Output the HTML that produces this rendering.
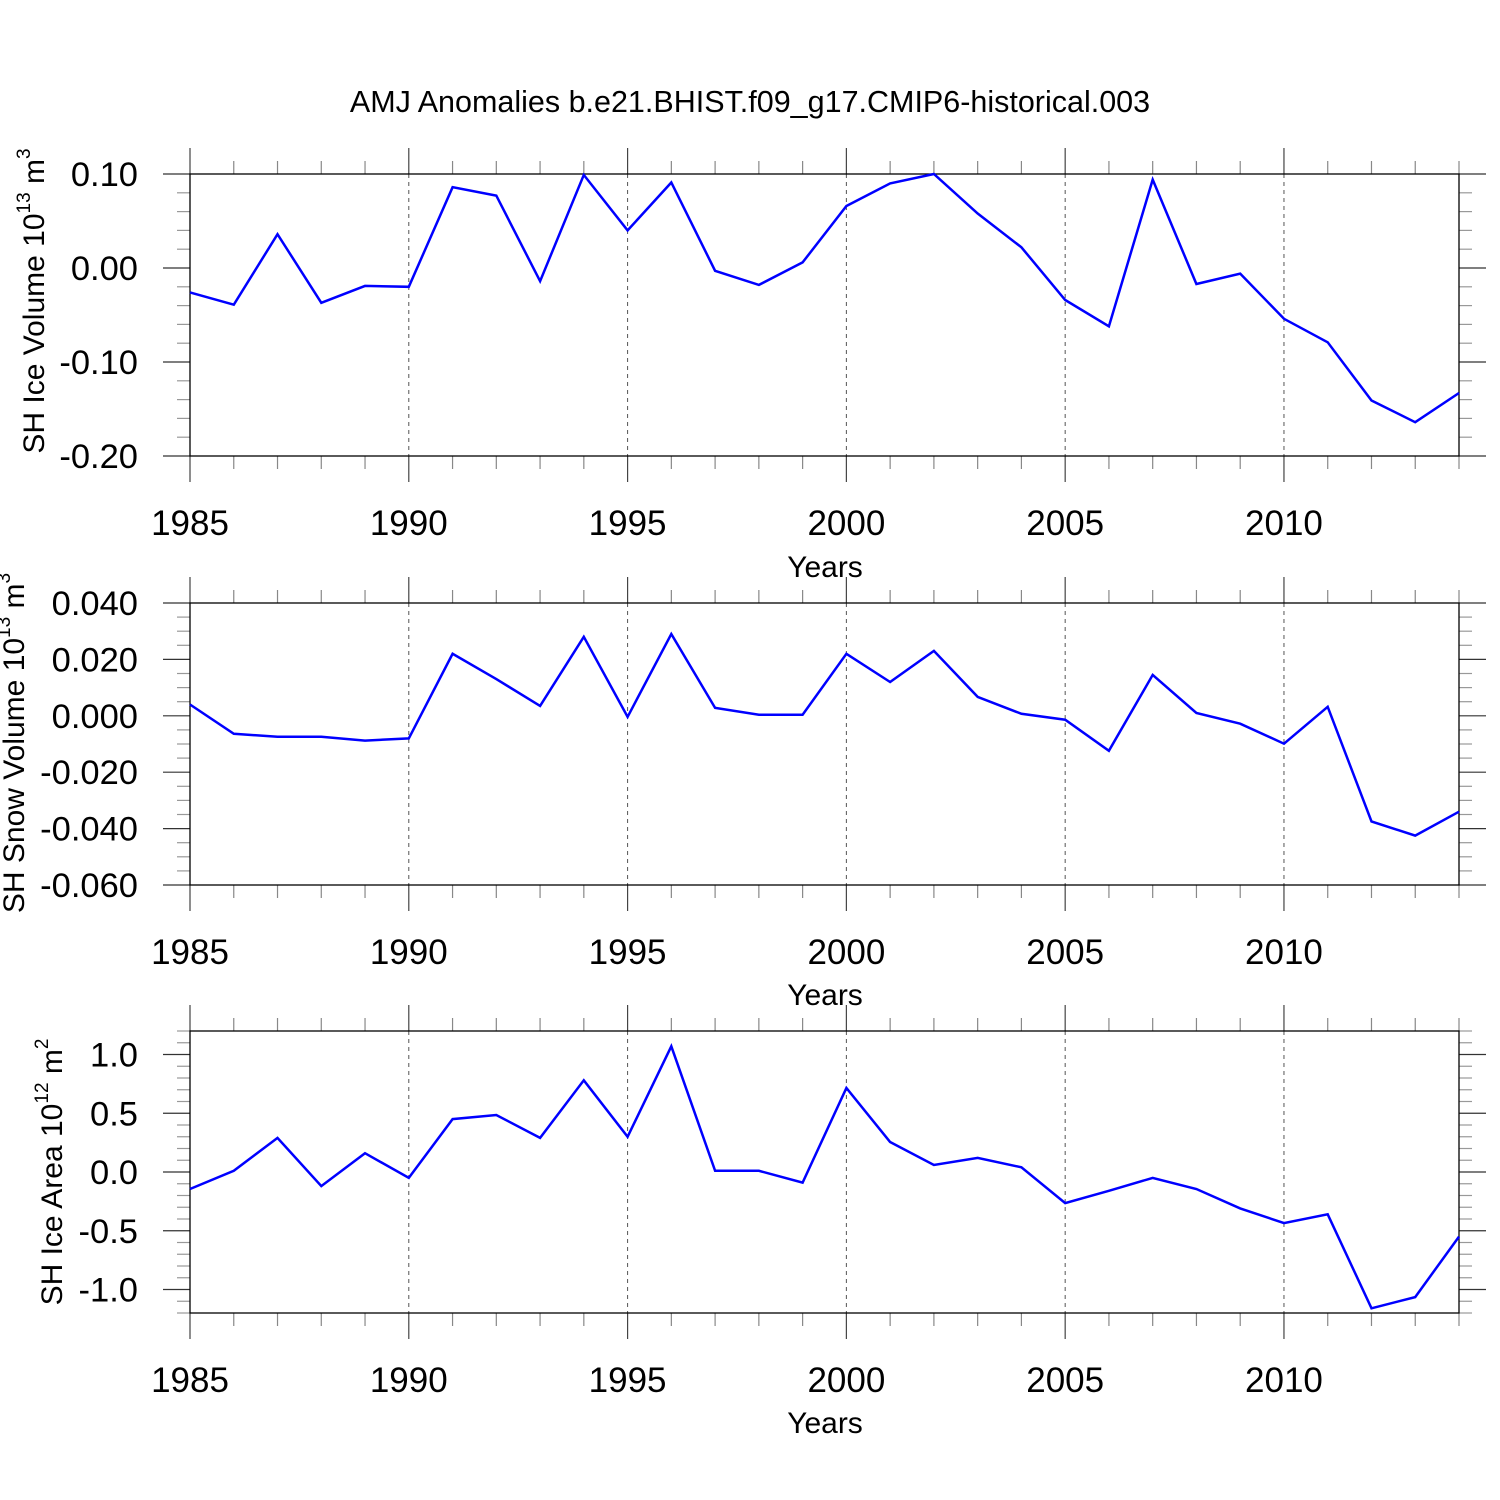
<!DOCTYPE html>
<html><head><meta charset="utf-8"><style>
html,body{margin:0;padding:0;background:#fff}
svg{display:block}
text{font-family:"Liberation Sans",Arial,sans-serif;fill:#000}
</style></head><body>
<svg id="chart" width="1500" height="1500" viewBox="0 0 1500 1500" xmlns="http://www.w3.org/2000/svg">
<rect width="1500" height="1500" fill="#fff"/>
<text x="750" y="112" font-size="30.5" text-anchor="middle">AMJ Anomalies b.e21.BHIST.f09_g17.CMIP6-historical.003</text>
</svg>
<script>
const years = [1985,1986,1987,1988,1989,1990,1991,1992,1993,1994,1995,1996,1997,1998,1999,2000,2001,2002,2003,2004,2005,2006,2007,2008,2009,2010,2011,2012,2013,2014];
const iceVolume = [-0.026,-0.039,0.036,-0.037,-0.019,-0.020,0.086,0.077,-0.014,0.099,0.040,0.091,-0.003,-0.018,0.006,0.066,0.090,0.100,0.058,0.022,-0.034,-0.062,0.094,-0.017,-0.006,-0.054,-0.079,-0.141,-0.164,-0.133];
const snowVolume = [0.004,-0.0064,-0.0074,-0.0074,-0.0088,-0.008,0.022,0.013,0.0035,0.028,-0.0004,0.029,0.0028,0.0004,0.0004,0.022,0.012,0.023,0.0067,0.0007,-0.0014,-0.0124,0.0145,0.001,-0.0028,-0.0099,0.0032,-0.0375,-0.0425,-0.034];
const iceArea = [-0.145,0.01,0.29,-0.12,0.16,-0.05,0.45,0.485,0.29,0.78,0.30,1.07,0.01,0.01,-0.09,0.715,0.255,0.06,0.12,0.04,-0.265,-0.16,-0.05,-0.145,-0.31,-0.435,-0.36,-1.16,-1.065,-0.55];
const xTickLabels = ["1985","1990","1995","2000","2005","2010"];
const iceVolTicks = ["0.10","0.00","-0.10","-0.20"];
const snowVolTicks = ["0.040","0.020","0.000","-0.020","-0.040","-0.060"];
const iceAreaTicks = ["1.0","0.5","0.0","-0.5","-1.0"];

const svg = document.getElementById('chart');
const NS = 'http://www.w3.org/2000/svg';
function mk(tag, attrs){const e=document.createElementNS(NS,tag);for(const k in attrs)e.setAttribute(k,attrs[k]);svg.appendChild(e);return e;}
const X0=190, X1=1459;
function xs(yr){return X0+(yr-1985)*(X1-X0)/29;}

const panels=[
 {key:'ice-volume',top:174,bot:456,ymax:0.10,ymin:-0.20,data:iceVolume,ticks:iceVolTicks,minor:0.02,label:'SH Ice Volume 10',sup:'13',unit:' m',sup2:'3',lx:44,ly:301,yearsY:577},
 {key:'snow-volume',top:603,bot:885,ymax:0.04,ymin:-0.06,data:snowVolume,ticks:snowVolTicks,minor:0.005,label:'SH Snow Volume 10',sup:'13',unit:' m',sup2:'3',lx:24,ly:743,yearsY:1005},
 {key:'ice-area',top:1031,bot:1313,ymax:1.2,ymin:-1.2,data:iceArea,ticks:iceAreaTicks,minor:0.1,label:'SH Ice Area 10',sup:'12',unit:' m',sup2:'2',lx:62,ly:1172,yearsY:1433}
];

panels.forEach(p=>{
  const ys=v=>p.top+(p.ymax-v)*(p.bot-p.top)/(p.ymax-p.ymin);
  for(let yr=1990;yr<=2010;yr+=5){
    const g=mk('line',{x1:xs(yr),x2:xs(yr),y1:p.top,y2:p.bot,stroke:'#555','stroke-width':1,'stroke-dasharray':'4,4'});
    
    
  }
  years.forEach(yr=>{
    const maj=(yr%5===0);
    const L=maj?26:13;
    const c=maj?'#444':'#888';
    const t1=mk('line',{x1:xs(yr),x2:xs(yr),y1:p.top-L,y2:p.top,stroke:c,'stroke-width':1.2});
    
    
    const t2=mk('line',{x1:xs(yr),x2:xs(yr),y1:p.bot,y2:p.bot+L,stroke:c,'stroke-width':1.2});
    
    
  });
  const nMinor=Math.round((p.ymax-p.ymin)/p.minor);
  for(let i=0;i<=nMinor;i++){
    const v=p.ymin+i*p.minor, y=ys(v);
    const isMaj=p.ticks.some(t=>Math.abs(parseFloat(t)-v)<p.minor/10);
    const L=isMaj?27:13, c=isMaj?'#333':'#999';
    const a=mk('line',{x1:X0-L,x2:X0,y1:y,y2:y,stroke:c,'stroke-width':1.2});
    
    
    const b=mk('line',{x1:X1,x2:X1+L,y1:y,y2:y,stroke:c,'stroke-width':1.2});
    
    
  }
  const fr=mk('rect',{x:X0,y:p.top,width:X1-X0,height:p.bot-p.top,fill:'none',stroke:'#000','stroke-width':1.3});
  
  
  p.ticks.forEach(t=>{
    const tx=mk('text',{x:138,y:ys(parseFloat(t))+12,'font-size':34.5,'text-anchor':'end'});
    tx.textContent=t;
    
    
  });
  xTickLabels.forEach(t=>{
    const tx=mk('text',{x:xs(+t),y:p.bot+79,'font-size':35,'text-anchor':'middle'});
    tx.textContent=t;
    
    
  });
  const xt=mk('text',{x:825,y:p.yearsY,'font-size':30,'text-anchor':'middle'});
  xt.textContent='Years';
  
  
  const yt=mk('text',{x:0,y:0,'font-size':30,'text-anchor':'middle',transform:`translate(${p.lx},${p.ly}) rotate(-90)`});
  
  
  yt.innerHTML=`${p.label}<tspan font-size="19" dy="-14">${p.sup}</tspan><tspan dy="14">${p.unit}</tspan><tspan font-size="19" dy="-14">${p.sup2}</tspan>`;
  const pts=p.data.map((v,i)=>xs(years[i]).toFixed(1)+','+ys(v).toFixed(1)).join(' ');
  const pl=mk('polyline',{points:pts,fill:'none',stroke:'#0000ff','stroke-width':2.5,'stroke-linejoin':'miter'});
  
  
});
</script>
</body></html>
